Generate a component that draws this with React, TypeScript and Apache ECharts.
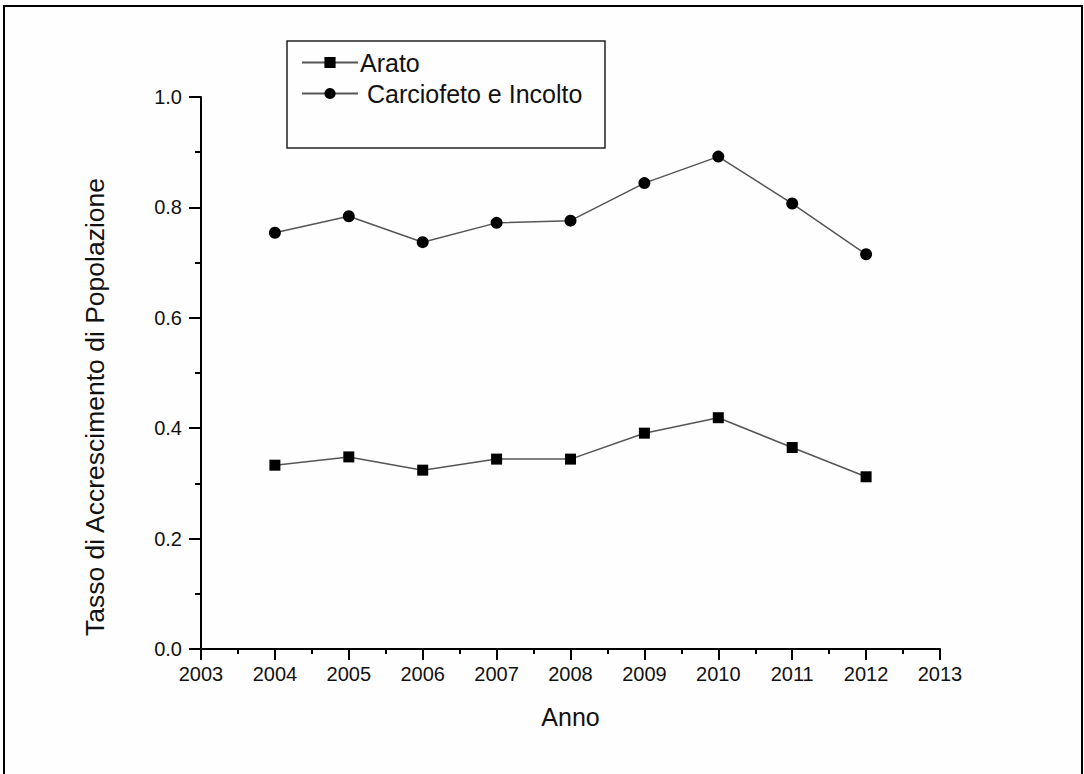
import React, { useEffect, useRef } from "react";
import * as echarts from "echarts";

// Years on the horizontal axis
const years = [2004, 2005, 2006, 2007, 2008, 2009, 2010, 2011, 2012];

// Population growth rate per treatment
const arato = [0.333, 0.348, 0.324, 0.344, 0.344, 0.391, 0.419, 0.365, 0.312];
const carciofetoIncolto = [0.754, 0.784, 0.737, 0.772, 0.776, 0.844, 0.892, 0.807, 0.715];

const seriesNames = ["Arato", "Carciofeto e Incolto"];
const xTitle = "Anno";
const yTitle = "Tasso di Accrescimento di Popolazione";

const FONT = "'Liberation Sans', Arial, sans-serif";

export default function App() {
  const ref = useRef<HTMLDivElement>(null);

  useEffect(() => {
    document.body.style.margin = "0";
    const chart = echarts.init(ref.current!, null, { renderer: "svg" });

    const axisCommon = {
      axisLine: { show: true, lineStyle: { color: "#000", width: 2 } },
      splitLine: { show: false },
    };

    chart.setOption({
      animation: false,
      backgroundColor: "#fefefe",
      grid: { left: 201, right: 144, top: 97, bottom: 125, containLabel: false },
      xAxis: {
        type: "value",
        min: 2003,
        max: 2013,
        interval: 1,
        ...axisCommon,
        axisTick: { show: true, inside: false, length: 11, lineStyle: { color: "#000", width: 2 } },
        minorTick: { show: true, splitNumber: 2, length: 5, lineStyle: { color: "#000", width: 2 } },
        axisLabel: {
          color: "#111",
          fontFamily: FONT,
          fontSize: 20,
          margin: 15,
          formatter: (v: number) => String(v),
        },
        name: xTitle,
        nameLocation: "middle",
        nameGap: 55,
        nameTextStyle: { color: "#111", fontFamily: FONT, fontSize: 25 },
      },
      yAxis: {
        type: "value",
        min: 0,
        max: 1,
        interval: 0.2,
        ...axisCommon,
        axisTick: { show: true, inside: false, length: 12, lineStyle: { color: "#000", width: 2 } },
        minorTick: { show: true, splitNumber: 2, length: 6, lineStyle: { color: "#000", width: 2 } },
        axisLabel: {
          color: "#111",
          fontFamily: FONT,
          fontSize: 20,
          margin: 19,
          formatter: (v: number) => v.toFixed(1),
        },
      },
      legend: {
        orient: "vertical",
        left: 301,
        top: 50,
        padding: 0,
        itemWidth: 56,
        itemHeight: 14,
        itemGap: 6,
        textStyle: { color: "#111", fontFamily: FONT, fontSize: 25, padding: [0, 0, 0, -3] },
        formatter: (name: string) => (name === seriesNames[1] ? " " + name : name),
        data: seriesNames,
      },
      graphic: [
        // outer frame
        {
          type: "rect",
          shape: { x: 4, y: 6, width: 1078, height: 800 },
          style: { fill: "none", stroke: "#000", lineWidth: 2 },
          silent: true,
        },
        // legend box
        {
          type: "rect",
          shape: { x: 287, y: 41, width: 318, height: 107 },
          style: { fill: "none", stroke: "#222", lineWidth: 1.5 },
          silent: true,
        },
        // vertical axis title
        {
          type: "text",
          x: 95,
          y: 407,
          rotation: Math.PI / 2,
          style: {
            text: yTitle,
            fontFamily: FONT,
            fontSize: 26.5,
            fill: "#111",
            align: "center",
            verticalAlign: "middle",
          },
        },
      ],
      series: [
        {
          name: seriesNames[0],
          type: "line",
          data: years.map((y, i) => [y, arato[i]]),
          symbol: "rect",
          symbolSize: 11,
          itemStyle: { color: "#000" },
          lineStyle: { color: "#555", width: 1.5 },
        },
        {
          name: seriesNames[1],
          type: "line",
          data: years.map((y, i) => [y, carciofetoIncolto[i]]),
          symbol: "circle",
          symbolSize: 12,
          itemStyle: { color: "#000" },
          lineStyle: { color: "#555", width: 1.5 },
        },
      ],
    });

    return () => chart.dispose();
  }, []);

  return (
    <div
      ref={ref}
      style={{ position: "absolute", left: 0, top: 0, width: 1084, height: 774 }}
    />
  );
}
